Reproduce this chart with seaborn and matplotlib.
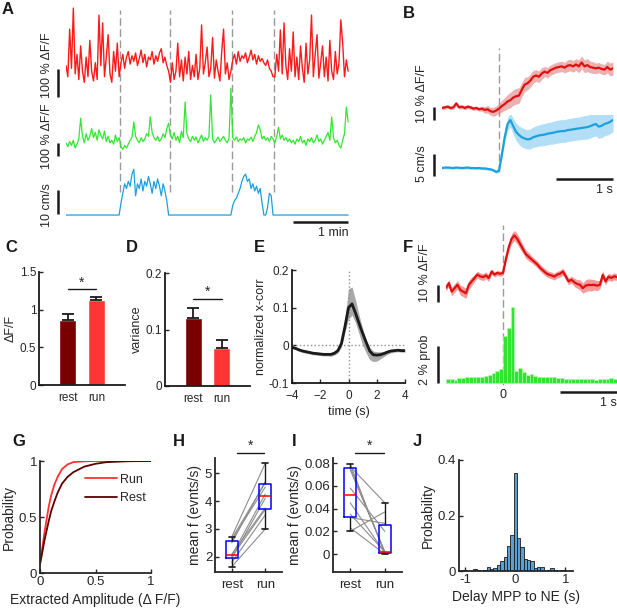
import numpy as np
import pandas as pd
import seaborn as sns
from matplotlib import pyplot as plt

W, H = 617, 611

# ---------------- A: example session (one sample every 2 s) ----------------
a_dt = 2.0
a_run_edges = [59, 113, 181, 227]          # run onset / offset (s)
a_ne = [80, 40, 210, 70, 285, 50, 120, 30, 150, 60, 20, 110, 40, 170, 60, 25, 90, 30, 260, 80,
        232, 40, 110, 190, 50, 20, 130, 60, 160, 40,
        90, 120, 70, 110, 130, 85, 115, 95, 125, 80, 105, 135, 90, 120, 75, 110, 100, 130, 85, 115,
        95, 125, 140, 90, 110, 80, 60,
        20, 90, 30, 60, 160, 40, 100, 25, 110, 50, 130, 30, 80, 40, 120, 30, 70, 225, 50, 90,
        146, 40, 70, 180, 35, 100, 60, 25, 130, 210, 50, 90, 30, 60,
        100, 120, 85, 130, 95, 115, 105, 125, 90, 110, 135, 100, 120, 85, 115, 95, 105, 90, 80, 100,
        70, 60, 40,
        40, 120, 60, 207, 50, 232, 80, 30, 140, 60, 200, 40, 110, 30, 150, 70, 20, 160, 50, 100,
        260, 40, 120, 190, 35, 90, 150, 40, 110, 25, 170, 60, 30, 130, 50, 90, 243, 160, 40, 100, 60]
a_mpp = [40, 10, 50, 20, 60, 0, 30, 70, 230, 90, 40, 110, 60, 90, 150, 80, 120, 60, 140, 100,
         70, 130, 50, 90, 40, 60, 30, 100, 50, 80, 10, -10, 20, 0, 30, 60, 80, 200, 90, 60,
         40, 80, 50, 70, 110, 90, 240, 120, 80, 60, 90, 50, 70, 110, 80, 150, 190, 100, 70, 120,
         60, 90, 40, 130, 80, 354, 110, 70, 50, 90, 60, 85, 40, 70, 100, 50, 80, 60, 90, 408,
         70, 40, 60, 85, 50, 70, 90, 60, 40, 80, 460, 80, 60, 85, 50, 70, 60, 80, 40, 70,
         60, 85, 50, 90, 120, 177, 140, 70, 90, 60, 80, 50, 90, 70, 40, 90, 160, 70, 100, 60,
         80, 50, 70, 40, 60, 30, 70, 50, 90, 40, 60, 20, 70, 50, 80, 40, 60, 100, 50, 70,
         30, 60, 90, 120, 60, 240, 80, 40, 60, 20, 0, 60, 110, 315, 200]
a_speed = [0] * 30 + \
          [5, 9, 13, 11, 14, 12, 17, 19, 8, 13, 11, 15, 10, 14, 12, 16, 13, 9, 14, 11,
           15, 12, 8, 13, 10, 6, 0] + [0] * 34 + \
          [4, 6, 7, 9, 11, 14, 16, 17, 14, 15, 11, 13, 10, 12, 9, 11, 5, 0, 0, 3, 9, 8, 0] + [0] * 41

# ---------------- B: run-onset triggered averages (0.05 s bins, from -1 s) ----------------
b_dt, b_t0 = 0.05, -1.0
b_ne = [0, 0.5, 1, 0, 0.5, 3.5, 0.5, 1, 0, 1, 0.5, -0.5, 0, -1, -0.5, -1.5, -1, -2.5, -3, -2,
        -0.5, 1.5, 3, 5, 6, 8, 9, 9.5, 14, 18, 19, 21, 24, 25, 24, 26.5, 28, 27, 29, 30,
        31, 31.5, 32, 31, 32.5, 33, 32, 33.5, 32, 35, 32, 33, 31.5, 31, 30.5, 31, 30, 29.5, 31.5, 29.5,
        30.5]
b_ne_err = [1.5] * 14 + [2, 2.5, 3, 3, 3.5, 3.5,
            4, 4.5, 5, 5.5, 6, 6, 6, 6, 5.5, 5.5, 5, 5, 5, 4.5, 4.5, 4.5, 4, 4, 4, 4,
            4, 4, 4, 4, 4.5, 4.5, 4.5, 4.5, 5, 5, 5, 5, 4.5, 4.5, 4, 4, 4, 4, 4.5, 5, 5]
b_speed = [0, 0.1, 0.1, 0.05, 0, 0.1, 0.05, 0, 0.05, 0.1, 0, 0, -0.05, 0, -0.1, -0.1, -0.2, -0.3, -0.5, -0.9,
           -0.6, 3, 7, 10, 10.9, 9.5, 8.2, 7.5, 7.0, 6.7, 6.5, 6.6, 7.0, 7.2, 7.4, 7.5, 7.6, 7.8, 7.9, 8.0,
           8.2, 8.3, 8.4, 8.4, 8.6, 8.7, 8.8, 8.9, 9.0, 9.1, 9.2, 9.3, 9.5, 9.8, 10.0, 9.4, 9.6, 10.0, 10.2, 10.5,
           10.9]
b_speed_err = [0.3] * 20 + [0.4, 0.8, 1.2, 1.5, 1.6, 1.8, 2.0, 2.1, 2.2, 2.2,
                            2.2, 2.3, 2.3, 2.4, 2.4, 2.5, 2.5, 2.5, 2.5, 2.6] + [2.6] * 10 + [2.7] * 11

# ---------------- C / D ----------------
groups = ["rest", "run"]
c_mean = [0.86, 1.13]
c_sem = [0.08, 0.04]
d_mean = [0.12, 0.068]
d_sem = [0.018, 0.013]

# ---------------- E: cross-correlation (0.25 s lags from -4 s) ----------------
e_mean = [-0.005, -0.008, -0.012, -0.015, -0.017, -0.019, -0.021, -0.022, -0.023, -0.024, -0.024,
          -0.024, -0.021, -0.014, 0.005, 0.05, 0.1, 0.11, 0.085, 0.058, 0.032, 0.008, -0.015,
          -0.025, -0.026, -0.025, -0.022, -0.018, -0.015, -0.014, -0.013, -0.014, -0.014]
e_upper = [-0.001, -0.004, -0.008, -0.011, -0.013, -0.015, -0.017, -0.018, -0.019, -0.02, -0.02,
           -0.019, -0.016, -0.008, 0.015, 0.07, 0.15, 0.155, 0.12, 0.08, 0.045, 0.015, -0.005,
           -0.015, -0.017, -0.017, -0.016, -0.013, -0.011, -0.01, -0.009, -0.01, -0.01]
e_lower = [-0.009, -0.012, -0.016, -0.019, -0.021, -0.023, -0.025, -0.026, -0.027, -0.028, -0.028,
           -0.029, -0.026, -0.02, -0.005, 0.035, 0.07, 0.08, 0.06, 0.03, 0.0, -0.02, -0.038,
           -0.043, -0.042, -0.036, -0.03, -0.024, -0.02, -0.018, -0.017, -0.018, -0.018]

# ---------------- F: MPP-event triggered NE and event histogram ----------------
f_ne = [1.2, 4, -1, 1, 3, 0, -1, -2, 3, 5, 7, 9, 8, 7.5, 8.5, 7, 10.8, 9, 10, 9.5,
        10, 18, 25, 30, 32, 30, 27, 24, 21, 19.5, 18, 16.5, 15, 13, 11.5, 10, 9, 8.5, 7.8, 9,
        9.5, 10.8, 8, 5, 6, 4.5, 3.5, 3, 1, 2.5, 3, 2.8, 3, 2.5, 3, 8.8, 5, 7.8, 7, 8, 7.5]
f_ne_err = [2, 2, 2.5, 2.5, 2.5, 3, 3, 3, 2.5, 2.5, 2, 2, 2, 2, 2, 2, 1.5, 1.5, 1.5, 1.5,
            1.5, 2, 2.5, 3, 3, 3, 3, 2.5, 2.5, 2.5, 2, 2, 2, 2, 2, 2, 2, 2, 2, 2,
            2, 2, 2, 2, 2, 2.5, 2.5, 3, 3, 3.5, 3.5, 3.5, 3, 3, 2.5, 2.5, 2, 2, 2, 2, 2]
f_bin = 1 / 15
f_prob = [0.22, 0.2, 0.18, 0.25, 0.27, 0.3, 0.3, 0.3, 0.32, 0.35, 0.4, 0.45, 0.55, 0.65, 0.75,
          2.56, 3.0, 4.1, 0.65, 0.8, 0.6, 0.45, 0.5, 0.4, 0.35, 0.35, 0.3, 0.33, 0.3, 0.28,
          0.25, 0.22, 0.23, 0.24, 0.22, 0.23, 0.2, 0.22, 0.2, 0.18, 0.22, 0.24, 0.22, 0.25, 0.22]

# ---------------- G: amplitude CDFs ----------------
g_amp = [0, 0.02, 0.04, 0.06, 0.08, 0.1, 0.13, 0.16, 0.2, 0.25, 0.3, 0.4, 0.5, 0.6, 0.8, 1.0]
g_run = [0.08, 0.22, 0.36, 0.48, 0.6, 0.69, 0.79, 0.86, 0.93, 0.97, 0.99, 0.997, 1, 1, 1, 1]
g_rest = [0.08, 0.18, 0.29, 0.38, 0.47, 0.55, 0.64, 0.72, 0.8, 0.86, 0.9, 0.95, 0.975, 0.99, 0.998, 1]

# ---------------- H / I: paired event rates ----------------
h_rest = [2.72, 2.65, 2.6, 2.5, 2.1, 2.05, 2.0, 1.95, 1.8, 1.65]
h_run = [5.35, 4.65, 4.5, 4.7, 3.75, 4.25, 3.7, 4.1, 3.5, 3.0]
i_rest = [0.079, 0.077, 0.076, 0.074, 0.058, 0.045, 0.035, 0.032, 0.023, 0.02]
i_run = [0.0, 0.045, 0.002, 0.002, 0.02, 0.001, 0.002, 0.027, 0.0, 0.037]

# ---------------- J: delay histogram (bins of 1/15 s centred on 0) ----------------
j_bin = 1 / 15
j_prob = [0, 0, 0.004, 0, 0, 0.008, 0.002, 0, 0.005, 0.014, 0.006, 0.01, 0.022, 0.035, 0.05, 0.09, 0.128,
          0.352,
          0.12, 0.085, 0.045, 0.04, 0.035, 0.012, 0.015, 0.015, 0, 0.005, 0.012, 0.004, 0, 0.004, 0, 0, 0]

RED = "#ff1a1a"
GREEN = "#33e633"
BLUE = "#1ca0e0"
DASH = (0, (5.5, 2.5))
INK = "#262626"

sns.set_theme(style="ticks")
plt.rcParams["font.family"] = ["Liberation Sans", "DejaVu Sans"]
plt.rcParams["text.color"] = INK
plt.rcParams["axes.labelcolor"] = INK

fig = plt.figure(figsize=(W / 100, H / 100), dpi=100)


def add_px(x0, y0, x1, y1):
    return fig.add_axes([x0 / W, 1 - y1 / H, (x1 - x0) / W, (y1 - y0) / H])


def letter(x, y, s):
    fig.text(x / W, 1 - y / H, s, fontsize=12, fontweight="bold", ha="left", va="center", color="k")


def style_axes(ax, size=8.5):
    sns.despine(ax=ax)
    ax.tick_params(direction="in", length=3, width=1, colors=INK, labelsize=size, pad=2)
    for s in ["left", "bottom"]:
        ax.spines[s].set_linewidth(1.3)
        ax.spines[s].set_color(INK)


def scale_bar(ax, xs, ys):
    ax.plot(xs, ys, color="k", lw=1.8, clip_on=False, solid_capstyle="butt")


def trace(ax, t, y, color, lw=0.8):
    sns.lineplot(x=t, y=y, ax=ax, color=color, lw=lw, estimator=None)


def weighted_hist(ax, edges, probs, **kws):
    centres = np.asarray(edges[:-1]) + np.diff(edges) / 2
    df = pd.DataFrame({"t": centres, "p": probs})
    sns.histplot(data=df, x="t", weights="p", bins=[float(e) for e in edges], alpha=1, ax=ax, **kws)


# ---- A ----
a_t = np.arange(len(a_ne)) * a_dt
frame_a = add_px(66, 5, 350, 235)
frame_a.set_xlim(0, 310)
for x in a_run_edges:
    frame_a.axvline(x, ymin=0.187, ymax=0.978, color="#9a9a9a", lw=1, ls=DASH)
frame_a.axis("off")

ax = add_px(66, 5, 350, 100)
trace(ax, a_t, a_ne, RED, lw=1.0)
ax.set_xlim(0, 310); ax.set_ylim(-43, 296)
scale_bar(ax, [-8.7, -8.7], [-32, 68])
ax.text(-20.7, 82, "100 % ΔF/F", rotation=90, ha="center", va="center", fontsize=9)
ax.axis("off")

ax = add_px(66, 85, 350, 160)
trace(ax, a_t, a_mpp, GREEN, lw=0.9)
ax.set_xlim(0, 310); ax.set_ylim(-92, 485)
scale_bar(ax, [-8.7, -8.7], [-62, 38])
ax.text(-20.7, 92, "100 % ΔF/F", rotation=90, ha="center", va="center", fontsize=9)
ax.axis("off")

ax = add_px(66, 165, 350, 235)
trace(ax, a_t, a_speed, BLUE, lw=0.9)
ax.set_xlim(0, 310); ax.set_ylim(-8.3, 20.8)
scale_bar(ax, [-8.7, -8.7], [0.4, 10.4])
ax.text(-20.7, 4.2, "10 cm/s", rotation=90, ha="center", va="center", fontsize=9)
scale_bar(ax, [248, 308], [-2.9, -2.9])
ax.text(308, -7.3, "1 min", ha="right", va="center", fontsize=9)
ax.axis("off")

# ---- B ----
b_t = b_t0 + np.arange(len(b_ne)) * b_dt
frame_b = add_px(442, 40, 613, 195)
frame_b.set_xlim(-1, 2)
frame_b.axvline(0, ymin=0.148, ymax=0.948, color="#9a9a9a", lw=1, ls=DASH)
frame_b.axis("off")

ax = add_px(442, 40, 613, 125)
ax.fill_between(b_t, np.array(b_ne) - b_ne_err, np.array(b_ne) + b_ne_err, color="#e08080", alpha=0.6, lw=0)
trace(ax, b_t, b_ne, "#e01010", lw=1.6)
ax.set_xlim(-1, 2); ax.set_ylim(-13.1, 52.3)
scale_bar(ax, [-1.14, -1.14], [-9, 1])
ax.text(-1.35, 10.8, "10 % ΔF/F", rotation=90, ha="center", va="center", fontsize=9)
ax.axis("off")

ax = add_px(442, 115, 613, 195)
ax.fill_between(b_t, np.array(b_speed) - b_speed_err, np.array(b_speed) + b_speed_err,
                color="#9fd8f5", alpha=0.8, lw=0)
trace(ax, b_t, b_speed, BLUE, lw=1.6)
ax.set_xlim(-1, 2); ax.set_ylim(-6.14, 12.05)
scale_bar(ax, [-1.14, -1.14], [-1.8, 3.2])
ax.text(-1.35, 1.1, "5 cm/s", rotation=90, ha="center", va="center", fontsize=9)
scale_bar(ax, [1.0, 2.0], [-2.5, -2.5])
ax.text(2.0, -4.9, "1 s", ha="right", va="center", fontsize=9)
ax.axis("off")

# ---- C / D ----
for box, mean, sem, ylim, ticks, labels, ylab, sig in [
        ((39, 272, 125, 385), c_mean, c_sem, 1.5, [0, 0.5, 1, 1.5], ["0", "0.5", "1", "1.5"], "ΔF/F", 1.27),
        ((165, 273, 250, 386), d_mean, d_sem, 0.2, [0, 0.1, 0.2], ["0", "0.1", "0.2"], "variance", 0.154)]:
    ax = add_px(*box)
    sns.barplot(x=groups, y=mean, hue=groups, palette=["#7a0000", "#ff3535"], width=0.6,
                saturation=1, legend=False, ax=ax)
    ax.errorbar(groups, mean, yerr=[[0, 0], sem], fmt="none", ecolor="k", elinewidth=1.3,
                capsize=4, capthick=1.3)
    ax.set_xlim(-1, 2)
    ax.set_ylim(0, ylim)
    ax.set_yticks(ticks, labels)
    ax.set_ylabel(ylab, fontsize=9, labelpad=2)
    ax.plot([0, 1], [sig, sig], color="k", lw=1)
    ax.text(0.5, sig, "*", ha="center", va="bottom", fontsize=10)
    style_axes(ax)
    ax.tick_params(axis="x", length=0, pad=5)
    for s in ["left", "bottom"]:
        ax.spines[s].set_color("k")

# ---- E ----
e_lag = -4 + np.arange(len(e_mean)) * 0.25
ax = add_px(292, 270, 405, 383)
ax.fill_between(e_lag, e_lower, e_upper, color="#a8a8a8", lw=0)
ax.axhline(0, color="#909090", ls=":", lw=1)
ax.axvline(0, color="#909090", ls=":", lw=1)
trace(ax, e_lag, e_mean, "#1a1a1a", lw=2)
ax.set_xlim(-4, 4); ax.set_ylim(-0.1, 0.2)
ax.set_xticks([-4, -2, 0, 2, 4])
ax.set_yticks([-0.1, 0, 0.1, 0.2], ["-0.1", "0", "0.1", "0.2"])
ax.set_xlabel("time (s)", fontsize=9, labelpad=3)
ax.set_ylabel("normalized x-corr", fontsize=9, labelpad=1)
style_axes(ax)
ax.tick_params(axis="x", pad=5)
for s in ["left", "bottom"]:
    ax.spines[s].set_color("k")

# ---- F ----
f_t = -1 + np.arange(len(f_ne)) * 0.05
frame_f = add_px(446, 215, 617, 400)
frame_f.set_xlim(-1, 2)
frame_f.axvline(0, ymin=0.081, ymax=0.946, color="#9a9a9a", lw=1, ls=DASH)
frame_f.axis("off")

ax = add_px(446, 215, 617, 310)
ax.fill_between(f_t, np.array(f_ne) - f_ne_err, np.array(f_ne) + f_ne_err, color="#f07070", alpha=0.7, lw=0)
trace(ax, f_t, f_ne, "#e01010", lw=1.6)
ax.set_xlim(-1, 2); ax.set_ylim(-11.8, 44)
scale_bar(ax, [-1.14, -1.14], [-7.1, 2.9])
ax.text(-1.37, 10.0, "10 % ΔF/F", rotation=90, ha="center", va="center", fontsize=9)
ax.axis("off")

ax = add_px(446, 300, 617, 400)
f_edges = -1 + np.arange(len(f_prob) + 1) * f_bin
weighted_hist(ax, f_edges, f_prob, color="#2fe62f", edgecolor="#b8f5b8", linewidth=0.4)
ax.set_xlim(-1, 2); ax.set_ylim(-0.92, 4.49)
scale_bar(ax, [-1.14, -1.14], [0, 2])
ax.text(-1.37, 1.24, "2 % prob", rotation=90, ha="center", va="center", fontsize=9)
ax.text(0, -0.65, "0", ha="center", va="center", fontsize=9)
scale_bar(ax, [1.0, 2.0], [-0.49, -0.49])
ax.text(2.0, -1.1, "1 s", ha="right", va="center", fontsize=9, clip_on=False)
ax.axis("off")

# ---- G ----
ax = add_px(40, 461, 151, 573)
sns.lineplot(x=g_amp, y=g_run, color="#ff3030", lw=1.3, label="Run", ax=ax)
sns.lineplot(x=g_amp, y=g_rest, color="#5c0000", lw=1.3, label="Rest", ax=ax)
ax.set_xlim(0, 1); ax.set_ylim(0, 1)
ax.set_xticks([0, 0.5, 1], ["0", "0.5", "1"])
ax.set_yticks([0, 0.5, 1], ["0", "0.5", "1"])
ax.set_xlabel("Extracted Amplitude (Δ F/F)", fontsize=10, labelpad=4)
ax.set_ylabel("Probability", fontsize=10, labelpad=2)
ax.legend(loc="upper left", bbox_to_anchor=(0.36, 0.93), frameon=False, fontsize=9,
          handlelength=2.6, handletextpad=0.2, labelspacing=0.5, borderaxespad=0)
style_axes(ax, 9.5)


# ---- H / I ----
def paired_panel(box, rest, run, ylim, ticks, labels, sig_y):
    ax = add_px(*box)
    n = len(rest)
    df = pd.DataFrame({"pos": [0] * n + [1] * n, "val": list(rest) + list(run),
                       "subject": list(range(n)) * 2})
    sns.lineplot(data=df, x="pos", y="val", units="subject", estimator=None, color="#8c8c8c",
                 lw=0.8, ax=ax)
    sns.boxplot(data=df, x="pos", y="val", native_scale=True, width=0.35, fill=False,
                showfliers=False, whis=1.5, ax=ax,
                boxprops={"color": "#0000ff", "linewidth": 1.1},
                medianprops={"color": "#ff0000", "linewidth": 1.1},
                whiskerprops={"color": "k", "linewidth": 1},
                capprops={"color": "k", "linewidth": 1.2})
    ax.set_xlim(-0.5, 1.5); ax.set_ylim(*ylim)
    ax.set_xticks([0, 1], ["rest", "run"])
    ax.set_yticks(ticks, labels)
    ax.set_xlabel("")
    ax.set_ylabel("mean f (evnts/s)", fontsize=10, labelpad=2)
    ax.plot([0.15, 0.97], [sig_y, sig_y], color="k", lw=1, clip_on=False)
    ax.text(0.56, sig_y, "*", ha="center", va="bottom", fontsize=10, clip_on=False)
    style_axes(ax, 9.5)
    ax.tick_params(axis="x", pad=5)
    return ax


paired_panel((215, 458, 282, 572), h_rest, h_run, (1.46, 5.54), [2, 3, 4, 5], ["2", "3", "4", "5"], 5.72)
paired_panel((333, 458, 402, 572), i_rest, i_run, (-0.0158, 0.0844), [0, 0.02, 0.04, 0.06, 0.08],
             ["0", "0.02", "0.04", "0.06", "0.08"], 0.0888)

# ---- J ----
ax = add_px(459, 460, 573, 571)
n_half = len(j_prob) // 2
j_edges = (np.arange(len(j_prob) + 1) - n_half - 0.5) * j_bin
weighted_hist(ax, j_edges, j_prob, color="#5b9fd0", edgecolor="#1a1a1a", linewidth=0.6)
ax.set_xlim(-1.12, 1.15); ax.set_ylim(0, 0.4)
ax.set_xticks([-1, 0, 1], ["-1", "0", "1"])
ax.set_yticks([0, 0.2, 0.4], ["0", "0.2", "0.4"])
ax.set_xlabel("Delay MPP to NE (s)", fontsize=10, labelpad=3)
ax.set_ylabel("Probability", fontsize=10, labelpad=2)
style_axes(ax, 9.5)

for x, y, s in [(2, 9, "A"), (403, 13, "B"), (5, 248, "C"), (126, 248, "D"), (254, 248, "E"),
                (403, 247, "F"), (12, 442, "G"), (173, 442, "H"), (292, 442, "I"), (413, 442, "J")]:
    letter(x, y, s)

fig.savefig("out.png", dpi=100)
